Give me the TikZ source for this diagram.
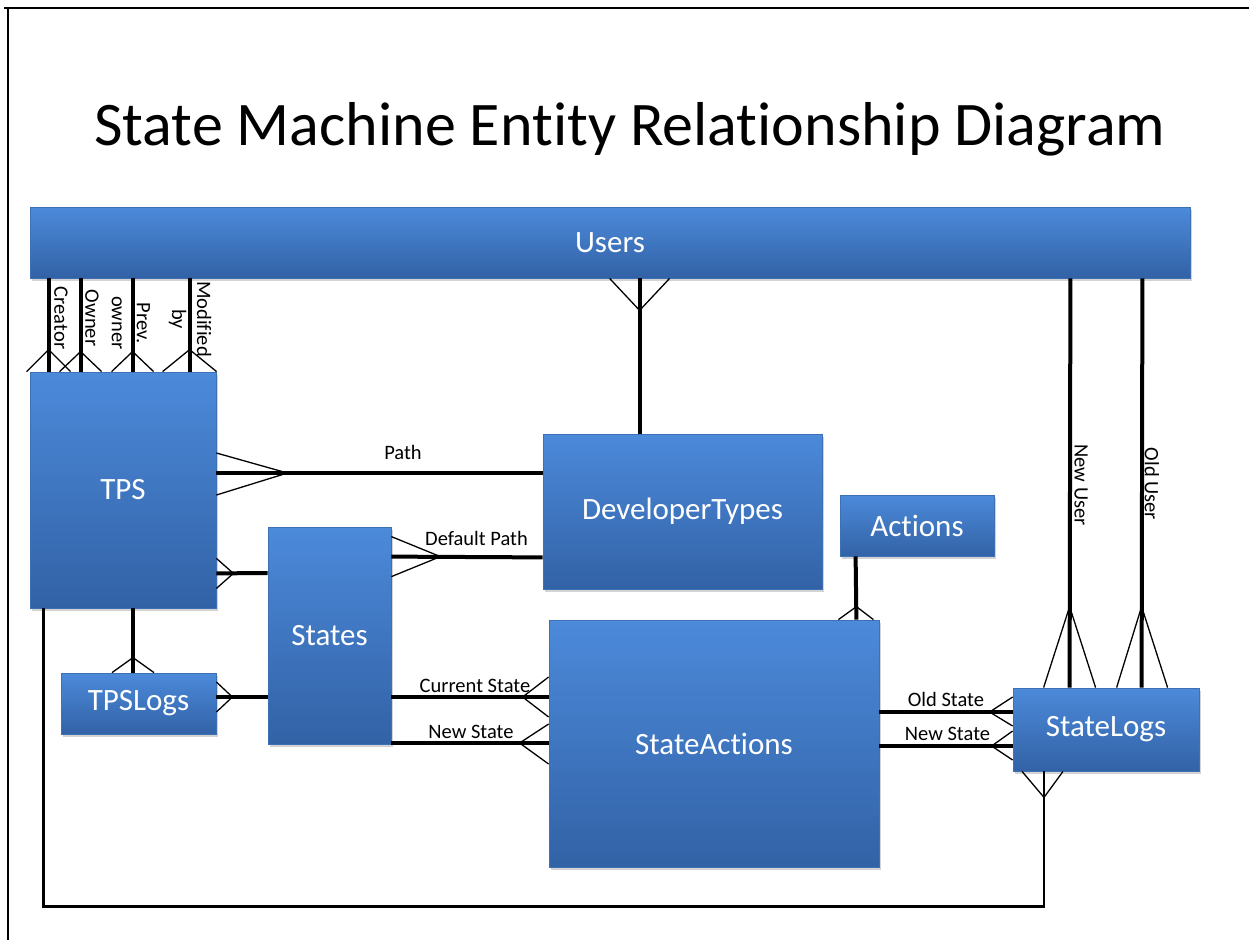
\documentclass[tikz,border=0pt]{standalone}
\usepackage{fontspec}
\setmainfont{Carlito}[Ligatures={NoCommon}]
\usetikzlibrary{calc,shadows}
\definecolor{boxtop}{RGB}{76,138,218}
\definecolor{boxbot}{RGB}{50,98,166}
\definecolor{boxedge}{RGB}{62,112,182}
\tikzset{
 ent/.style={rectangle, inner sep=0pt, top color=boxtop, bottom color=boxbot, draw=boxedge, line width=0.8pt, text=white, font=\fontsize{31}{36}\selectfont, drop shadow={opacity=0.35, shadow xshift=2pt, shadow yshift=-3pt}},
 rel/.style={line width=4pt},
 foot/.style={line width=1.3pt},
 loopline/.style={line width=2.5pt},
 lbl/.style={font=\fontsize{20.5}{25}\selectfont, inner sep=0pt, anchor=base},
 vlbl/.style={font=\fontsize{20.5}{25}\selectfont, inner sep=0pt, rotate=-90, align=center},
}
\begin{document}
\begin{tikzpicture}[x=1pt,y=-1pt]
\useasboundingbox (0,0) rectangle (1249,940);
% frame
\draw[line width=2.2pt] (4,8) -- (1249,8);
\draw[line width=1.3pt] (8,8) -- (8,940);
% title
\node[font=\fontsize{62}{72}\selectfont, anchor=base, inner sep=0pt] (title) at (630,145) {State Machine Entity Relationship Diagram};
% entities
\node[ent, minimum width=1160pt, minimum height=71pt] (users) at (610,242.5) {Users};
\node[ent, minimum width=186pt, minimum height=236pt] (tps) at (123,490) {TPS};
\node[ent, minimum width=279pt, minimum height=155pt] (dev) at (682.5,511.5) {DeveloperTypes};
\node[ent, minimum width=154pt, minimum height=61pt] (actions) at (917,525.5) {Actions};
\node[ent, minimum width=123pt, minimum height=217pt] (states) at (329.5,635.5) {States};
\node[ent, minimum width=155pt, minimum height=61pt] (tpslogs) at (138.5,703.5) {TPSLogs};
\node[ent, minimum width=330pt, minimum height=247pt] (sa) at (714,743.5) {StateActions};
\node[ent, minimum width=186pt, minimum height=83pt] (sl) at (1106,729.5) {StateLogs};

% Users -> TPS (four relations)
\draw[rel] ($(users.south west)+(19,0)$) -- ($(tps.north west)+(19,0)$);
\draw[foot] ($(tps.north west)+(-3,0)$) -- ($(tps.north west)+(19,-22)$) -- ($(tps.north west)+(41,0)$);
\draw[rel] ($(users.south west)+(51,0)$) -- ($(tps.north west)+(51,0)$);
\draw[foot] ($(tps.north west)+(30,0)$) -- ($(tps.north west)+(51,-20)$) -- ($(tps.north west)+(72,0)$);
\draw[rel] ($(users.south west)+(103,0)$) -- ($(tps.north west)+(103,0)$);
\draw[foot] ($(tps.north west)+(82,0)$) -- ($(tps.north west)+(103,-20)$) -- ($(tps.north west)+(124,0)$);
\draw[rel] ($(users.south west)+(160,0)$) -- ($(tps.north west)+(160,0)$);
\draw[foot] ($(tps.north west)+(133,0)$) -- ($(tps.north west)+(160,-22)$) -- ($(tps.north west)+(187,0)$);
\node[vlbl] (lcreator) at (61,318) {Creator};
\node[vlbl] (lowner) at (92,318) {Owner};
\node[vlbl] (lprev) at (131,323) {Prev.\\owner};
\node[vlbl] (lmod) at (190,319) {Modified\\by};

% Users -> DeveloperTypes
\draw[rel] ($(users.south west)+(610,0)$) -- ($(dev.north west)+(97,0)$);
\draw[foot] ($(users.south west)+(580,0)$) -- ($(users.south west)+(610,32)$) -- ($(users.south west)+(640,0)$);

% TPS -> DeveloperTypes (Path)
\draw[rel] ($(tps.east)+(0,-17)$) -- ($(dev.west)+(0,-38.5)$);
\draw[foot] ($(tps.east)+(0,-37)$) -- ($(tps.east)+(71,-17)$) -- ($(tps.east)+(0,5)$);
\node[lbl] (lpath) at (403,459) {Path};

% States -> DeveloperTypes (Default Path)
\draw[rel] ($(states.north east)+(0,30)$) -- ($(dev.south west)+(0,-32)$);
\draw[foot] ($(states.north east)+(0,10)$) -- ($(states.north east)+(49,30)$) -- ($(states.north east)+(0,50)$);
\node[lbl] (ldefpath) at (476.5,545) {Default Path};

% TPS -> States
\draw[rel] ($(tps.south east)+(0,-35)$) -- ($(states.west)+(0,-62.5)$);
\draw[foot] ($(tps.south east)+(0,-50)$) -- ($(tps.south east)+(17,-35)$) -- ($(tps.south east)+(0,-20)$);

% TPS -> TPSLogs
\draw[rel] ($(tps.south)+(10,0)$) -- ($(tpslogs.north)+(-5.5,0)$);
\draw[foot] ($(tpslogs.north)+(-26.5,0)$) -- ($(tpslogs.north)+(-5.5,-15)$) -- ($(tpslogs.north)+(15.5,0)$);

% TPSLogs -> States
\draw[rel] ($(tpslogs.east)+(0,-6.5)$) -- ($(states.west)+(0,61.5)$);
\draw[foot] ($(tpslogs.east)+(0,-21.5)$) -- ($(tpslogs.east)+(16,-6.5)$) -- ($(tpslogs.east)+(0,8.5)$);

% States -> StateActions
\draw[rel] ($(states.east)+(0,61.5)$) -- ($(sa.west)+(0,-46.5)$);
\draw[foot] ($(sa.west)+(0,-66.5)$) -- ($(sa.west)+(-26,-46.5)$) -- ($(sa.west)+(0,-26.5)$);
\node[lbl] (lcur) at (475,692) {Current State};
\draw[rel] ($(states.east)+(0,107.5)$) -- ($(sa.west)+(0,-0.5)$);
\draw[foot] ($(sa.west)+(0,-19.5)$) -- ($(sa.west)+(-29,-0.5)$) -- ($(sa.west)+(0,20.5)$);
\node[lbl] (lnew1) at (471,738) {New State};

% Actions -> StateActions
\draw[rel] ($(actions.south west)+(16,0)$) -- ($(sa.north east)+(-23,0)$);
\draw[foot] ($(sa.north east)+(-41,0)$) -- ($(sa.north east)+(-23,-13)$) -- ($(sa.north east)+(-6,0)$);

% StateActions -> StateLogs
\draw[rel] ($(sa.east)+(0,-31.5)$) -- ($(sl.west)+(0,-17.5)$);
\draw[foot] ($(sl.west)+(0,-32.5)$) -- ($(sl.west)+(-23,-17.5)$) -- ($(sl.west)+(0,-3.5)$);
\node[lbl] (lold) at (946,706) {Old State};
\draw[rel] ($(sa.east)+(0,2.5)$) -- ($(sl.west)+(0,16.5)$);
\draw[foot] ($(sl.west)+(0,1.5)$) -- ($(sl.west)+(-21,16.5)$) -- ($(sl.west)+(0,30.5)$);
\node[lbl] (lnew2) at (947.5,740) {New State};

% Users -> StateLogs
\draw[rel] ($(users.south east)+(-120,0)$) -- ($(sl.north west)+(57,0)$);
\draw[foot] ($(sl.north west)+(31,0)$) -- ($(sl.north west)+(57,-81)$) -- ($(sl.north west)+(83,0)$);
\node[vlbl] (lnewuser) at (1081,485) {New User};
\draw[rel] ($(users.south east)+(-48,0)$) -- ($(sl.north west)+(129,0)$);
\draw[foot] ($(sl.north west)+(104,0)$) -- ($(sl.north west)+(129,-81)$) -- ($(sl.north west)+(155,0)$);
\node[vlbl] (lolduser) at (1152,484) {Old User};

% TPS -> StateLogs (bottom loop)
\draw[loopline] ($(tps.south west)+(14,0)$) |- ($(sl.south)+(-62,135)$) -- ($(sl.south)+(-62,0)$);
\draw[foot] ($(sl.south)+(-84,0)$) -- ($(sl.south)+(-62,26)$) -- ($(sl.south)+(-43,0)$);
\end{tikzpicture}
\end{document}
